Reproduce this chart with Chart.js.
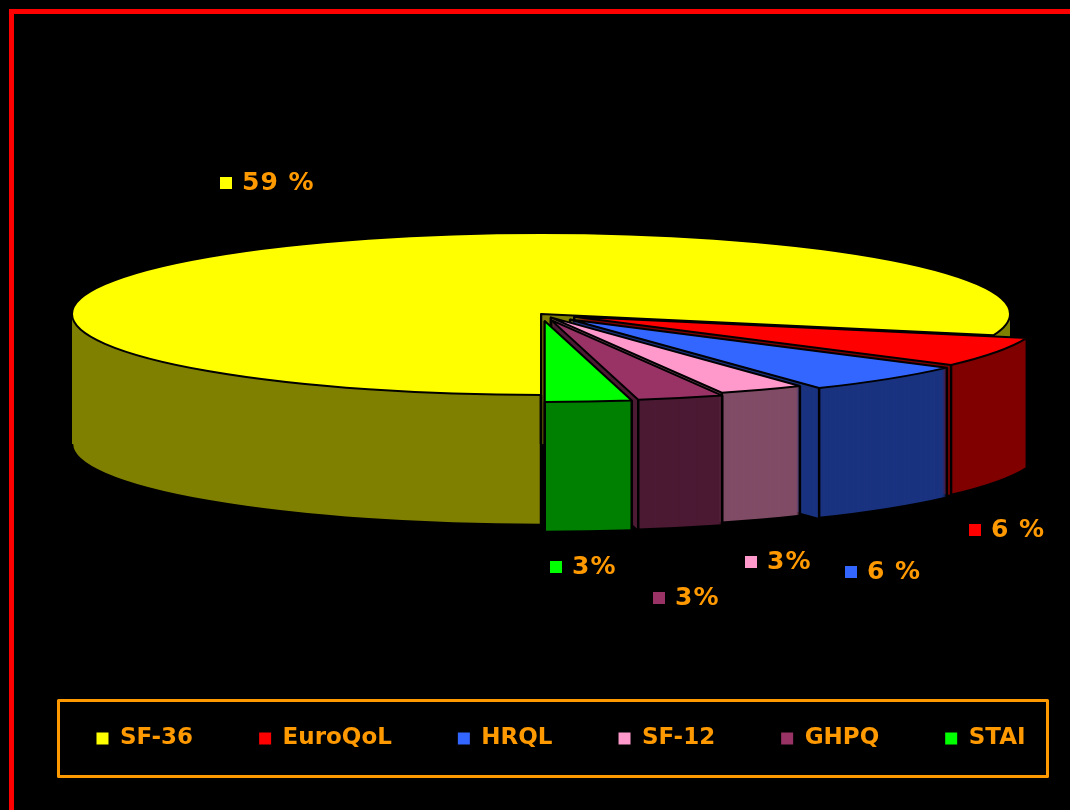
<!DOCTYPE html>
<html>
<head>
<meta charset="utf-8">
<style>
html,body{margin:0;padding:0;background:#000;overflow:hidden}
canvas{display:block}
</style>
<script src="https://cdn.jsdelivr.net/npm/chart.js@4/dist/chart.umd.js"></script>
</head>
<body>
<canvas id="c" width="1070" height="810"></canvas>
<script>
// Categories and the percentages printed beside each slice.
const categories = ['SF-36', 'EuroQoL', 'HRQL', 'SF-12', 'GHPQ', 'STAI'];
const printedPercent = [59, 6, 6, 3, 3, 3];
const printedSuffix = [' %', ' %', ' %', '%', '%', '%'];
// Relative slice sizes as measured from the drawn pie. The reference's first slice
// is drawn visibly larger than its printed 59 %, so the arcs follow the measurement.
const sliceShare = [80, 6, 6, 3, 3, 3];

const topColours = ['#FFFF00', '#FF0000', '#3366FF', '#FF99CC', '#993366', '#00FF00'];
const wallColours = ['#808000', '#800000', '#1A3380', '#804C66', '#4C1A33', '#008000'];
const explode = [0, 88, 102, 52, 88, 96];

const ORANGE = '#FF9900';
const view = { cx: 541, cy: 314, rx: 469, ry: 81, depth: 130 };
const labelPlaces = [
  { x: 220, y: 183 }, { x: 969, y: 530 }, { x: 845, y: 572 },
  { x: 745, y: 562 }, { x: 653, y: 598 }, { x: 550, y: 567 }
];

const pie3d = {
  id: 'pie3d',
  beforeDatasetsDraw(chart) {
    const ctx = chart.ctx;
    const arcs = chart.getDatasetMeta(0).data;
    const R = arcs[0].outerRadius;
    const kx = view.rx / R, ky = view.ry / R;
    arcs.forEach((arc, i) => {
      const mid = (arc.startAngle + arc.endAngle) / 2;
      const shift = (arc.options.offset || 0) / 4;
      const ox = view.cx + Math.cos(mid) * shift * kx;
      const oy = view.cy + Math.sin(mid) * shift * ky;
      const trace = (dy) => {
        ctx.beginPath();
        ctx.save();
        ctx.translate(ox, oy + dy);
        ctx.scale(kx, ky);
        ctx.moveTo(0, 0);
        ctx.arc(0, 0, R, arc.startAngle, arc.endAngle);
        ctx.closePath();
        ctx.restore();
      };
      // side wall
      ctx.fillStyle = wallColours[i];
      for (let d = view.depth; d >= 1; d--) { trace(d); ctx.fill(); }
      // wall outlines: lower rim and vertical edges
      ctx.strokeStyle = '#000';
      ctx.lineWidth = 2.5;
      for (let k = -1; k <= 2; k++) {
        const a = Math.max(arc.startAngle, k * 2 * Math.PI);
        const b = Math.min(arc.endAngle, k * 2 * Math.PI + Math.PI);
        if (b > a) {
          ctx.beginPath();
          ctx.save();
          ctx.translate(ox, oy + view.depth);
          ctx.scale(kx, ky);
          ctx.arc(0, 0, R, a, b);
          ctx.restore();
          ctx.stroke();
        }
      }
      const vertical = (x, y) => {
        ctx.beginPath(); ctx.moveTo(x, y); ctx.lineTo(x, y + view.depth); ctx.stroke();
      };
      vertical(ox, oy);
      [arc.startAngle, arc.endAngle].forEach((a) => {
        if (Math.sin(a) > 0) vertical(ox + Math.cos(a) * R * kx, oy + Math.sin(a) * R * ky);
      });
      // top face
      trace(0);
      ctx.fillStyle = topColours[i];
      ctx.fill();
      ctx.lineWidth = 2;
      ctx.lineJoin = 'round';
      ctx.stroke();
    });
    return false;
  },
  afterDraw(chart) {
    const ctx = chart.ctx;
    // slide border
    ctx.fillStyle = '#FF0000';
    ctx.fillRect(9, 9, 1061, 5);
    ctx.fillRect(9, 9, 5, 801);
    // legend frame
    ctx.strokeStyle = ORANGE;
    ctx.lineWidth = 3;
    ctx.strokeRect(58.5, 700.5, 989, 76);
    // slice labels
    ctx.font = 'bold 25px "DejaVu Sans"';
    ctx.letterSpacing = '1px';
    ctx.textBaseline = 'middle';
    ctx.textAlign = 'left';
    labelPlaces.forEach((p, i) => {
      ctx.fillStyle = topColours[i];
      ctx.fillRect(p.x, p.y - 6, 12, 12);
      ctx.fillStyle = ORANGE;
      ctx.fillText(printedPercent[i] + printedSuffix[i], p.x + 22, p.y);
    });
    ctx.letterSpacing = '0px';
  }
};

new Chart(document.getElementById('c'), {
  type: 'pie',
  data: {
    labels: categories,
    datasets: [{
      data: sliceShare,
      backgroundColor: topColours,
      borderWidth: 0,
      offset: explode
    }]
  },
  options: {
    responsive: false,
    animation: false,
    rotation: 180,
    layout: { padding: { left: 18, right: -34, bottom: 50 } },
    plugins: {
      tooltip: { enabled: false },
      legend: {
        position: 'bottom',
        labels: {
          color: ORANGE,
          font: { family: '"DejaVu Sans"', size: 23, weight: 'bold' },
          boxWidth: 12,
          boxHeight: 12,
          padding: 66
        }
      }
    }
  },
  plugins: [pie3d]
});
</script>
</body>
</html>
